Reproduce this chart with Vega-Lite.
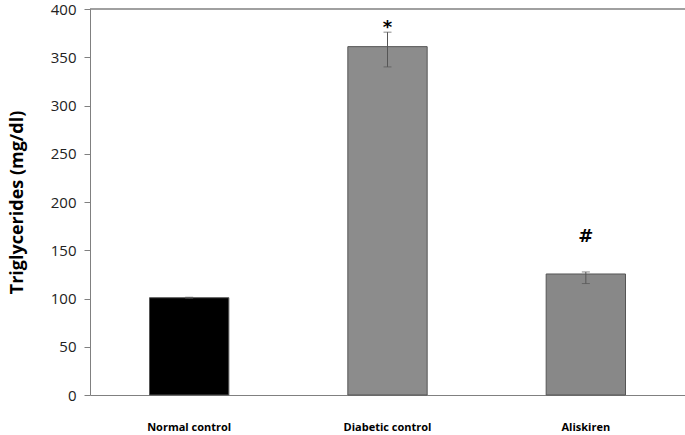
{
  "$schema": "https://vega.github.io/schema/vega-lite/v6.json",
  "width": 595,
  "height": 386,
  "autosize": "none",
  "padding": {"left": 90, "top": 9, "right": 0, "bottom": 40},
  "background": "white",
  "config": {"view": {"stroke": null}, "font": "Open Sans"},
  "data": {"values": [
    {"group": "Normal control", "value": 100.8, "lo": 100.2, "hi": 101.3, "mark": ""},
    {"group": "Diabetic control", "value": 361, "lo": 340, "hi": 376, "mark": "*", "marky": 380},
    {"group": "Aliskiren", "value": 125.4, "lo": 115.5, "hi": 127.5, "mark": "#", "marky": 164}
  ]},
  "encoding": {
    "x": {"field": "group", "type": "nominal", "sort": null,
      "scale": {"paddingInner": 0.6, "paddingOuter": 0.3},
      "axis": {"title": null, "labelAngle": 0, "ticks": false, "domainColor": "#808080", "labelFont": "Open Sans", "labelFontWeight": "bold", "labelFontSize": 11, "labelColor": "#000", "labelPadding": 26, "labelBaseline": "top"}}
  },
  "layer": [
    {
      "mark": {"type": "bar", "stroke": "#555", "strokeWidth": 1},
      "encoding": {
        "y": {"field": "value", "type": "quantitative",
          "scale": {"domain": [0, 400], "nice": false},
          "axis": {"values": [0,50,100,150,200,250,300,350,400], "title": "Triglycerides (mg/dl)", "titleFont": "Open Sans", "titleFontSize": 18, "titleFontWeight": "bold", "titleColor": "#000", "titlePadding": 24, "labelFont": "Open Sans", "labelFontSize": 15, "labelColor": "#222", "labelPadding": 8, "tickColor": "#808080", "tickSize": 6, "domainColor": "#808080", "grid": false}},
        "color": {"field": "group", "type": "nominal", "legend": null,
          "scale": {"domain": ["Normal control", "Diabetic control", "Aliskiren"], "range": ["#000000", "#8c8c8c", "#888888"]}}
      }
    },
    {
      "mark": {"type": "rule", "color": "#555", "strokeWidth": 1},
      "encoding": {"y": {"field": "lo", "type": "quantitative"}, "y2": {"field": "hi"}}
    },
    {
      "mark": {"type": "tick", "color": "#555", "size": 8, "thickness": 1, "orient": "horizontal"},
      "encoding": {"y": {"field": "lo", "type": "quantitative"}}
    },
    {
      "mark": {"type": "tick", "color": "#555", "size": 8, "thickness": 1, "orient": "horizontal"},
      "encoding": {"y": {"field": "hi", "type": "quantitative"}}
    },
    {
      "mark": {"type": "text", "fontSize": 18, "font": "DejaVu Sans", "fontWeight": "bold", "color": "#000", "baseline": "middle"},
      "encoding": {"y": {"field": "marky", "type": "quantitative"}, "text": {"field": "mark"}}
    },
    {
      "data": {"values": [{"top": 400}]},
      "mark": {"type": "rule", "color": "#808080", "strokeWidth": 1.5},
      "encoding": {"y": {"field": "top", "type": "quantitative"}, "x": {"value": 0}, "x2": {"value": 595}}
    }
  ]
}
